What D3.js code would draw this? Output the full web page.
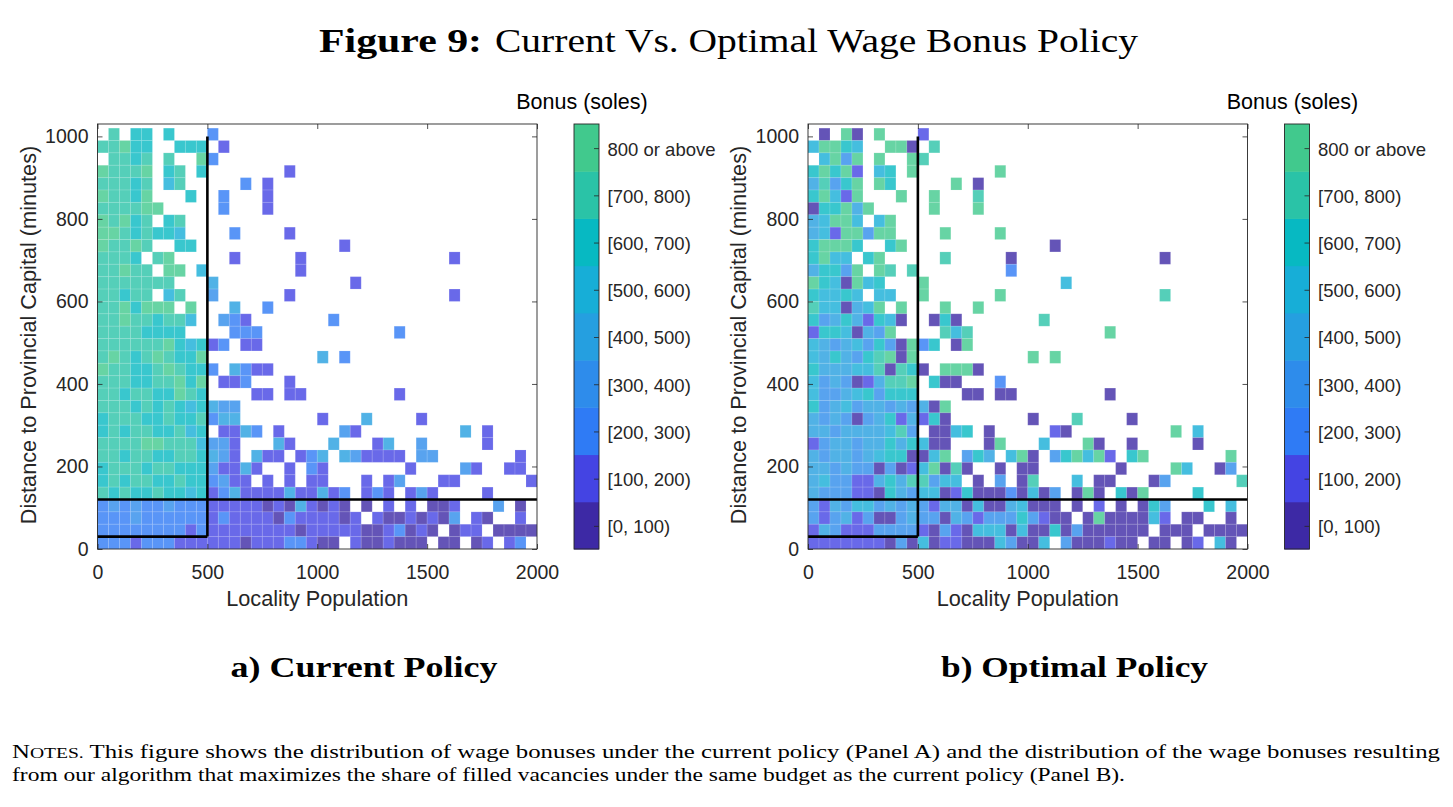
<!DOCTYPE html>
<html>
<head>
<meta charset="utf-8">
<script src="https://d3js.org/d3.v7.min.js"></script>
<style>body{margin:0;background:#fff}</style>
</head>
<body>
<div id="fig"></div>
<script>
// bonus class of each 50 x 30 cell ('.' = no locality), rows from the top (990-1020 min) to the bottom (0-30 min)
// 0:[0,100) 1:[100,200) ... 7:[700,800) 8:800 or above
const current_rows = [
  ".7.66.6... 2......... .......... ..........",
  "77866..666 .1........ .......... ..........",
  ".7767.7..8 2......... .......... ..........",
  "87778.67.6 .......1.. .......... ..........",
  "77767.57.. ...2.1.... .......... ..........",
  "87768...6. .2...1.... .......... ..........",
  "777788.... .2...1.... .......... ..........",
  "87867.67.. .......... .......... ..........",
  "88767665.. ..2....1.. .......... ..........",
  "87787..66. .......... ..1....... ..........",
  "7776.78... ..1.....1. .......... ..1.......",
  "77877.88.5 ........1. .......... ..........",
  "7777777... 4......... ...1...... ..........",
  "77677.57.. 3......1.. .......... ..1.......",
  "7786888.8. ..4..2.... .......... ..........",
  "778776775. .321...... .2........ ..........",
  "77776666.. ..222..... .......2.. ..........",
  "7777778656 12.11..... .......... ..........",
  "7876787668 .......... 4.2....... ..........",
  "8776678766 2.4211.... .......... ..........",
  "7776677868 .112...1.. .......... ..........",
  "7767766876 ....11.11. .......1.. ..........",
  "7776767656 433....... .......... ..........",
  "6777667667 244....... 1...4....1 ..........",
  "6767766756 .1142.1... ..31...... ...4.1....",
  "7777887775 331...41.. .4...14..3 .....1....",
  "7767766776 431.411.12 4.431111.3 3.......1.",
  "6777677666 31141..1.2 1.......1. ...31..11.",
  "6767766766 2311.1.1.1 1...1.13.. .11......1",
  "7676676656 1241111411 412.121.13 1....1....",
  "2323223222 1111101041 010.0.1.1. 001...3.0.",
  "2223222222 1211110211 1101.10010 103.10..1.",
  "2222222212 1111111101 1111001201 0.011.0000",
  "2221222111 1110111221 00.1001000 .00.01.12."
]
const optimal_rows = [
  ".0.80.8... 1......... .......... ..........",
  "58865..880 .7........ .......... ..........",
  ".5838.8..8 7......... .......... ..........",
  "68681.56.8 .......8.. .......... ..........",
  "47368.86.. ...8.0.... .......... ..........",
  "68518...8. .8...7.... .......... ..........",
  "066848.... .8...8.... .......... ..........",
  "45885.58.. .......... .......... ..........",
  "45188388.. ..8....8.. .......... ..........",
  "68886..68. .......... ..0....... ..........",
  "6855.68... ..7.....0. .......... ..0.......",
  "46638.87.7 ........2. .......... ..........",
  "8650856... 8......... ...5...... ..........",
  "65565.55.. 8......8.. .......... ..7.......",
  "7550458.8. ..8..8.... .......... ..........",
  "634641650. .060...... .7........ ..........",
  "16650438.. ..757..... .......8.. ..........",
  "5434536308 26.08..... .......... ..........",
  "5464367808 .......... 8.8....... ..........",
  "6444557076 0.8880.... .......... ..........",
  "5343014778 .600...2.. .......... ..........",
  "5334563666 ....00.00. .......0.. ..........",
  "6345344343 408....... .......... ..........",
  "4343034614 160....... 0...7....0 ..........",
  "4434444573 .0056.0... ..10...... ...8.5....",
  "1344344646 500...08.. .5...80..0 .....0....",
  "4344345660 058.364.58 0.368581.6 8.......8.",
  "4434330301 58070..0.0 0.......0. ...85..03.",
  "4533114647 7355.0.3.0 7...5.00.. .03......7",
  "4333110643 5501600020 503.080.60 8....6....",
  "3143553434 3144050045 000.0.1.0. 063...6.5.",
  "3134130034 3304313336 3100.08000 051.00..0.",
  "1431113333 1031055505 0060300000 0.000.0000",
  "1111111030 5011000530 05.3000100 .00.01.50."
]
const bin_w = 50   // population per cell
const bin_h = 30   // minutes per cell
const bonus_labels = ['[0, 100)','[100, 200)','[200, 300)','[300, 400)','[400, 500)','[500, 600)','[600, 700)','[700, 800)','800 or above']
const bonus_colors = ['#3d29a5','#4444e3','#2f7bf5','#2e8ceb','#259fe0','#17aed7','#07b9c2','#2ac3a7','#41c98d']
const x_ticks = [0,500,1000,1500,2000]
const y_ticks = [0,200,400,600,800,1000]
// thick black lines marking the current eligibility cut-offs
const cutoff_lines = [
  [[0,120],[2000,120]],
  [[0,30],[500,30]],
  [[500,30],[500,1000]]
]

const width = 1453
const height = 807
const axis_color = '#262626'
const sans = '"Liberation Sans", Arial, sans-serif'
const serif = '"Liberation Serif", "Times New Roman", serif'

const svg = d3.select('#fig').append('svg').attr('width',width).attr('height',height)

// title
svg.append('text').attr('x',319).attr('y',52).attr('font-family',serif).attr('font-size',33)
  .attr('font-weight','bold').attr('textLength',163).attr('lengthAdjust','spacingAndGlyphs').text('Figure 9:')
svg.append('text').attr('x',495).attr('y',52).attr('font-family',serif).attr('font-size',33)
  .attr('textLength',643).attr('lengthAdjust','spacingAndGlyphs').text('Current Vs. Optimal Wage Bonus Policy')

function draw_panel(rows, x_left, caption)
{
  const xScale = d3.scaleLinear().domain([0,2000]).range([x_left, x_left+439.5])
  const yScale = d3.scaleLinear().domain([0,1030]).range([549,124])
  const g = svg.append('g')

  // cells
  let cells = []
  rows.forEach((s,i)=>{
    s.replace(/ /g,'').split('').forEach((ch,j)=>{
      if(ch!=='.') cells.push({col:j,row:rows.length-1-i,k:+ch})
    })
  })
  g.append('g').selectAll('rect').data(cells).join('rect')
    .attr('x',d=>xScale(d.col*bin_w))
    .attr('y',d=>yScale((d.row+1)*bin_h))
    .attr('width',d=>xScale((d.col+1)*bin_w)-xScale(d.col*bin_w))
    .attr('height',d=>yScale(d.row*bin_h)-yScale((d.row+1)*bin_h))
    .attr('fill',d=>bonus_colors[d.k]).attr('fill-opacity',0.8)
    .attr('stroke','#fff').attr('stroke-opacity',0.12).attr('stroke-width',1)

  // cut-off lines
  g.selectAll('line.cut').data(cutoff_lines).join('line').attr('class','cut')
    .attr('x1',d=>xScale(d[0][0])).attr('y1',d=>yScale(d[0][1]))
    .attr('x2',d=>xScale(d[1][0])).attr('y2',d=>yScale(d[1][1]))
    .attr('stroke','#000').attr('stroke-width',2.6)

  // axes, ticks inward on all four sides
  const fmt = d3.format('d')
  const bottom = g.append('g').attr('transform','translate(0,549)')
    .call(d3.axisBottom(xScale).tickValues(x_ticks).tickFormat(fmt).tickSizeInner(-5).tickSizeOuter(0).tickPadding(16))
  const left = g.append('g').attr('transform',`translate(${x_left},0)`)
    .call(d3.axisLeft(yScale).tickValues(y_ticks).tickFormat(fmt).tickSizeInner(-5).tickSizeOuter(0).tickPadding(9))
  const top = g.append('g').attr('transform','translate(0,124)')
    .call(d3.axisTop(xScale).tickValues(x_ticks).tickSizeInner(-5).tickSizeOuter(0).tickFormat(''))
  const right = g.append('g').attr('transform',`translate(${x_left+439.5},0)`)
    .call(d3.axisRight(yScale).tickValues(y_ticks).tickSizeInner(-5).tickSizeOuter(0).tickFormat(''))
  for(a of [bottom,left,top,right])
  {
    a.select('.domain').remove()
    a.selectAll('line').attr('stroke',axis_color).attr('stroke-width',0.8)
    a.selectAll('text').attr('font-family',sans).attr('font-size',19.5).attr('fill',axis_color)
  }
  g.append('rect').attr('x',x_left).attr('y',124).attr('width',439.5).attr('height',425)
    .attr('fill','none').attr('stroke',axis_color).attr('stroke-width',0.9)

  g.append('text').text('Locality Population').attr('x',x_left+219.75).attr('y',606)
    .attr('text-anchor','middle').attr('font-family',sans).attr('font-size',21.7).attr('fill',axis_color)
  g.append('text').text('Distance to Provincial Capital (minutes)')
    .attr('transform',`translate(${x_left-62},335) rotate(-90)`)
    .attr('text-anchor','middle').attr('font-family',sans).attr('font-size',21.7).attr('fill',axis_color)

  // colorbar
  const cb_x = x_left+476.5, cb_w = 25
  const cScale = d3.scaleBand().domain(d3.range(bonus_colors.length)).range([549,124])
  g.append('g').selectAll('rect').data(bonus_colors).join('rect')
    .attr('x',cb_x).attr('y',(d,i)=>cScale(i)).attr('width',cb_w).attr('height',cScale.bandwidth()+0.5)
    .attr('fill',d=>d)
  g.append('g').selectAll('line').data(bonus_labels).join('line')
    .attr('x1',cb_x+cb_w-5).attr('x2',cb_x+cb_w)
    .attr('y1',(d,i)=>cScale(i)+cScale.bandwidth()/2+1).attr('y2',(d,i)=>cScale(i)+cScale.bandwidth()/2+1)
    .attr('stroke',axis_color).attr('stroke-width',0.8)
  g.append('rect').attr('x',cb_x).attr('y',124).attr('width',cb_w).attr('height',425)
    .attr('fill','none').attr('stroke',axis_color).attr('stroke-width',0.9)
  g.append('g').selectAll('text').data(bonus_labels).join('text').text(d=>d)
    .attr('x',cb_x+cb_w+8.5).attr('y',(d,i)=>cScale(i)+cScale.bandwidth()/2+3)
    .attr('dominant-baseline','middle').attr('font-family',sans).attr('font-size',18.5).attr('fill',axis_color)
  g.append('text').text('Bonus (soles)').attr('x',cb_x+8).attr('y',109)
    .attr('text-anchor','middle').attr('font-family',sans).attr('font-size',21.5).attr('fill','#000')

  // panel caption
  g.append('text').text(caption).attr('x',x_left+266.5).attr('y',677)
    .attr('text-anchor','middle').attr('font-family',serif).attr('font-weight','bold').attr('font-size',29)
    .attr('textLength',267).attr('lengthAdjust','spacingAndGlyphs')
}

draw_panel(current_rows, 97.5, 'a) Current Policy')
draw_panel(optimal_rows, 808, 'b) Optimal Policy')

// notes
const note1 = svg.append('text').attr('x',12).attr('y',758).attr('font-family',serif).attr('font-size',19)
  .attr('textLength',1428).attr('lengthAdjust','spacingAndGlyphs')
note1.append('tspan').text('N')
note1.append('tspan').attr('font-size',15).text('OTES.')
note1.append('tspan').text(' This figure shows the distribution of wage bonuses under the current policy (Panel A) and the distribution of the wage bonuses resulting')
svg.append('text').attr('x',12).attr('y',781).attr('font-family',serif).attr('font-size',19)
  .attr('textLength',1113).attr('lengthAdjust','spacingAndGlyphs')
  .text('from our algorithm that maximizes the share of filled vacancies under the same budget as the current policy (Panel B).')
</script>
</body>
</html>
